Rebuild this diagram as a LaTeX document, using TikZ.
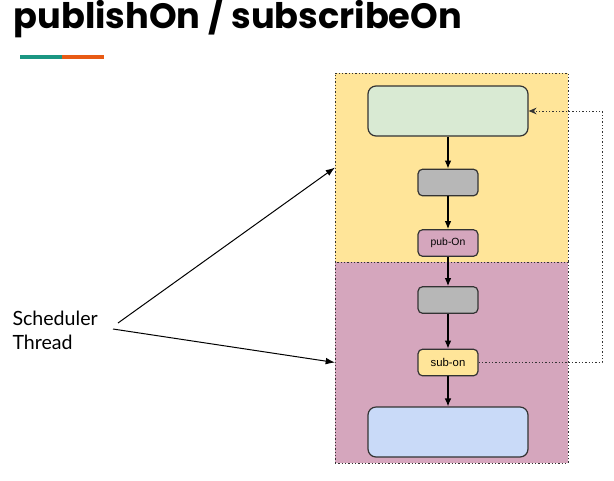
\documentclass[tikz,border=0pt]{standalone}
\usepackage{fontspec}
\setmainfont{Liberation Sans}
\newfontfamily\titlefont{Poppins}
\newfontfamily\labelfont{Lato}
\usetikzlibrary{arrows.meta}

\definecolor{pubyellow}{RGB}{255,229,153}
\definecolor{subpink}{RGB}{213,166,189}
\definecolor{srcgreen}{RGB}{217,234,211}
\definecolor{opgray}{RGB}{183,183,183}
\definecolor{sinkblue}{RGB}{201,218,248}
\definecolor{edgegray}{RGB}{51,51,51}
\definecolor{barteal}{RGB}{26,150,130}
\definecolor{barorange}{RGB}{232,90,20}

\tikzset{every picture/.style={line width=0.75pt}}
\tikzset{
  zone/.style={draw=edgegray, line width=0.75pt, dash pattern=on 1pt off 1.5pt,
    inner sep=0pt, outer sep=0pt, minimum width=174.75pt},
  opbox/.style={draw=edgegray, line width=0.9pt, rounded corners=3.5pt,
    minimum width=45pt, minimum height=20pt, inner sep=0pt, font=\fontsize{8.5}{10}\selectfont},
  bigbox/.style={opbox, rounded corners=6pt, minimum width=120pt, minimum height=37.5pt},
  flow/.style={draw=black, line width=0.9pt, -{Latex[length=6pt,width=5pt]}},
  feedback/.style={draw=edgegray, line width=0.75pt, dash pattern=on 1pt off 1.5pt,
    -{Stealth[length=6pt,width=5pt]}},
  pointer/.style={draw=black, line width=0.75pt, -{Latex[length=7pt,width=5pt]}}
}

\begin{document}
\begin{tikzpicture}[x=0.75pt,y=0.75pt,yscale=-1,xscale=1]
\useasboundingbox (0,0) rectangle (614,480);

% Title
\node [anchor=base west, inner sep=0pt] (title) at (13,28) {\titlefont\bfseries\fontsize{26.4}{30}\selectfont publishOn / subscribeOn};
\fill [barteal] (20,55) rectangle (62,59);
\fill [barorange] (62,55) rectangle (104,59);

%Shape: Rectangle (publishOn zone)
\node [zone, fill=pubyellow, minimum height=141.75pt] (pubzone) at (451.5,167.5) {};
%Shape: Rectangle (subscribeOn zone)
\node [zone, fill=subpink, minimum height=150.75pt] (subzone) at (451.5,362.5) {};

%Shape: Rounded Rect
\node [bigbox, fill=srcgreen] (source) at (448,111) {};
\node [opbox, fill=opgray] (opa) at (448,182.5) {};
\node [opbox, fill=subpink] (pubon) at (448,243) {\fontsize{7.8}{9}\selectfont pub-On};
\node [opbox, fill=opgray] (opb) at (448,300) {};
\node [opbox, fill=pubyellow] (subon) at (448,362.5) {sub-on};
\node [bigbox, fill=sinkblue] (sink) at (448,432) {};

%Straight Lines
\draw [flow] (source) -- (opa);
\draw [flow] (opa) -- (pubon);
\draw [flow] (pubon) -- (opb);
\draw [flow] (opb) -- (subon);
\draw [flow] (subon) -- (sink);

%Dotted return line
\coordinate (turn) at (602,362.5);
\draw [feedback] (subon.east) -- (turn) |- (source.east);

% Text Node
\node [anchor=north west, inner sep=0pt, align=left, font=\labelfont\fontsize{14.7}{17.5}\selectfont] (sched) at (12,311) {Scheduler\\Thread};
\coordinate (schedup) at (118,323);
\coordinate (scheddown) at (113,329);
\draw [pointer] (schedup) -- (pubzone.west);
\draw [pointer] (scheddown) -- (subzone.west);

\end{tikzpicture}
\end{document}
